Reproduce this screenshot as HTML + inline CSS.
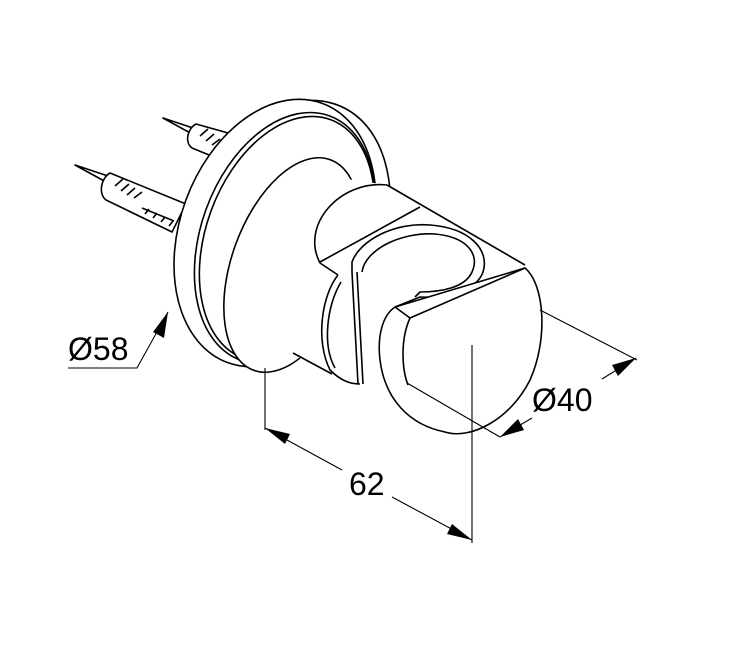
<!DOCTYPE html>
<html><head><meta charset="utf-8"><style>
html,body{margin:0;padding:0;background:#fff;}
svg{display:block;}
text{font-family:"Liberation Sans",sans-serif;font-size:32px;fill:#000;}
</style></head><body>
<svg width="729" height="646" viewBox="0 0 729 646" xmlns="http://www.w3.org/2000/svg">
<g fill="none" stroke="#000" stroke-width="1.6" stroke-linejoin="round">
<!-- screws -->
<path d="M163,118 L205,132 L203,140 Z" fill="#fff"/>
<path d="M196,124 C188,128 184,142 192,148 L236,166 L246,138 Z" fill="#fff"/>
<path d="M200,136 l8,-7 M206,141 l8,-7 M212,145 l8,-6 M218,148 l8,-6" />
<path d="M75,165 L120,180 L117,188 Z" fill="#fff"/>
<path d="M110,173 C101,178 98,194 106,200 L172,232 L186,204 Z" fill="#fff"/>
<path d="M115,186 l8,-7 M121,191 l8,-7 M127,195 l8,-7 M134,198 l8,-6 M142,208 l32,13 M145,214 l4,-5 M153,218 l4,-5 M161,222 l4,-5 M169,226 l4,-5" />
<!-- flange -->
<path d="M300,101 C350,95 385,130 390,190 L330,200 Z" fill="#fff"/>
<ellipse cx="275" cy="233" rx="95" ry="138" transform="rotate(20 275 233)" fill="#fff"/>
<ellipse cx="285" cy="238" rx="84" ry="130" transform="rotate(20 285 238)"/>
<ellipse cx="287" cy="239" rx="81" ry="127" transform="rotate(20 287 239)"/>
<!-- boss -->
<ellipse cx="292" cy="265" rx="60" ry="112" transform="rotate(20 292 265)" fill="#fff"/>
<!-- body fill -->
<polygon points="300,172 387,185 525,265 545,320 445,432 330,380 293,353 300,300" fill="#fff" stroke="none"/>
<path d="M387,185 L525,265"/>
<path d="M387,185 C340,180 300,225 320,263 L338,275"/>
<path d="M320,262 L420,207"/>
<path d="M293,353 L332,374"/>
<!-- left lobe -->
<path d="M338,275 C322,295 315,340 330,370 C342,382 352,384 360,384"/>
<path d="M341,282 C327,305 322,345 335,368"/>
<path d="M352,272 L358,384 M357,272 L363,384"/>
<!-- clip U -->
<path d="M352,272 L352,262 C360,240 395,222 430,225 C470,228 490,250 483,272 C476,292 445,298 420,297 L395,307"/>
<path d="M362,272 C365,250 400,232 435,234 C468,237 480,255 472,272 C465,288 440,292 420,292 L415,297"/>
<path d="M420,318 L530,273"/>
<!-- front face -->
<path d="M395,307 L525,268 C545,285 548,340 530,380 C510,420 470,440 445,432 C410,425 385,400 380,360 C377,335 383,315 395,307 Z" fill="#fff"/>
<path d="M395,307 L410,318 L525,268"/>
<path d="M410,318 C400,340 402,370 408,385"/>
</g>
<!-- dimensions -->
<g stroke="#000" stroke-width="1.1" fill="none">
<path d="M265,368 L265,430"/>
<path d="M472,345 L472,543"/>
<path d="M265,428 L342,470 M392,497 L472,540"/>
<path d="M540,310 L637,360"/>
<path d="M407,383 L500,437"/>
<path d="M500,437 L532,418 M602,379 L636,358"/>
<path d="M168,312 L137,368 L68,368"/>
</g>
<g fill="#000">
<polygon points="265,428 290,434 285,444"/>
<polygon points="472,540 447,534 452,524"/>
<polygon points="500,437 518,419 524,430"/>
<polygon points="636,358 618,376 612,365"/>
<polygon points="168,312 164,338 153,332"/>
</g>
<text x="349" y="495">62</text>
<text x="532" y="411">Ø40</text>
<text x="68" y="360">Ø58</text>
</svg>
</body></html>
